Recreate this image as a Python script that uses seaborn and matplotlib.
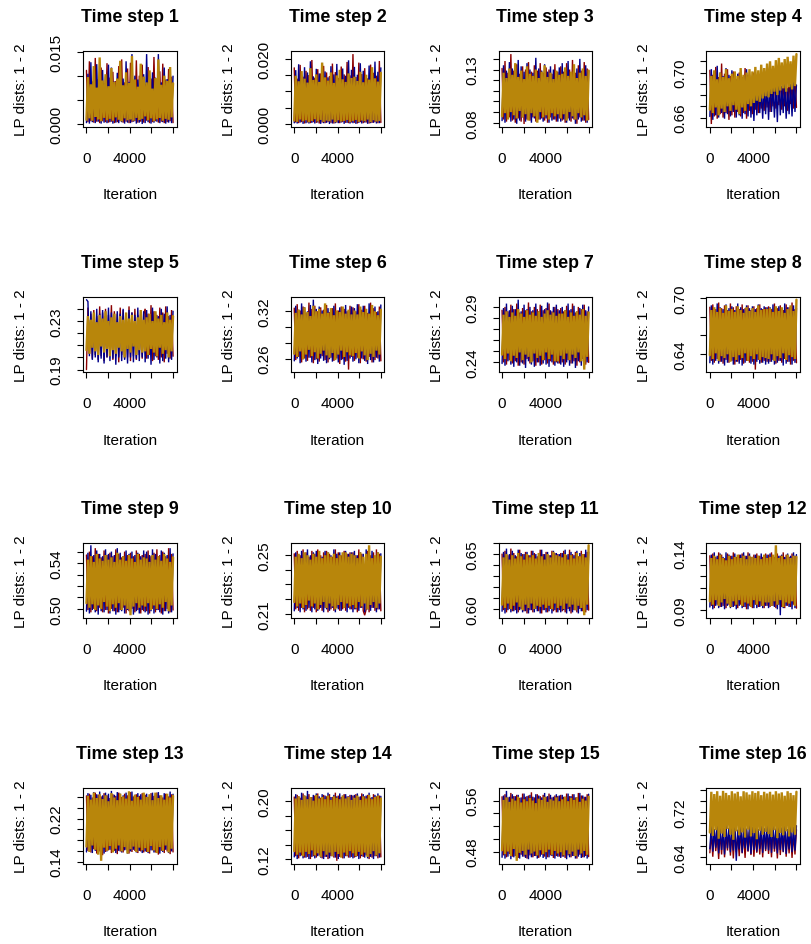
import numpy as np
import pandas as pd
import matplotlib
matplotlib.use("Agg")
import matplotlib.pyplot as plt
import seaborn as sns

sns.set_theme(style="white")
plt.rcParams["font.family"] = ["Liberation Sans", "DejaVu Sans"]

# ---------------- data ----------------
titles = ["Time step %d" % i for i in range(1, 17)]
chain_names = ["1", "2", "3"]
chain_colors = ["#8B0000", "#00008B", "#B8860B"]
ylabel_text = "LP dists: 1 - 2"
xlabel_text = "Iteration"
n_iter = 8000
n_kept = 60
xticks = [0, 2000, 4000, 6000, 8000]
xticklabels = ["0", "", "4000", "", ""]

p1_red = [.0112,.0004,.0131,.0006,.0089,.0003,.0138,.0005,.0094,.0002,.0118,.0006,.0085,.0004,.0127,.0003,.0097,.0005,.0109,.0002,.0090,.0004,.0121,.0006,.0135,.0003,.0087,.0005,.0116,.0002,.0128,.0004,.0092,.0006,.0133,.0003,.0101,.0005,.0124,.0003,.0083,.0007,.0119,.0002,.0095,.0004,.0140,.0006,.0088,.0003,.0110,.0005,.0126,.0002,.0093,.0004,.0115,.0006,.0099,.0003]
p1_blue = [.0003,.0105,.0001,.0129,.0004,.0092,.0002,.0125,.0005,.0086,.0001,.0113,.0003,.0099,.0002,.0124,.0004,.0118,.0001,.0089,.0003,.0107,.0002,.0119,.0004,.0095,.0001,.0131,.0003,.0088,.0002,.0146,.0005,.0101,.0001,.0093,.0003,.0115,.00002,.0104,.0002,.0146,.0004,.0090,.0001,.0108,.0003,.0097,.0005,.0146,.0002,.0087,.0004,.0118,.0001,.0094,.0003,.0110,.0002,.0100]
p1_gold = [.0009,.0098,.0012,.0083,.0007,.0121,.0015,.0076,.0010,.0139,.0006,.0091,.0013,.0104,.0008,.0079,.0011,.0117,.0007,.0088,.0014,.0095,.0009,.0132,.0006,.0081,.0012,.0108,.0008,.0086,.0010,.0142,.0007,.0093,.0013,.0078,.0009,.0126,.0011,.0099,.0016,.0087,.0008,.0112,.0012,.0074,.0006,.0096,.0010,.0135,.0013,.0082,.0007,.0101,.0011,.0090,.0009,.0119,.0014,.0085]

p2_red = [.0172,.0005,.0139,.0003,.0181,.0006,.0145,.0002,.0163,.0005,.0150,.0003,.0196,.0006,.0142,.0004,.0168,.0002,.0155,.0005,.0178,.0003,.0158,.0006,.0147,.0004,.0185,.0002,.0159,.0005,.0141,.0003,.0176,.0006,.0152,.0004,.0190,.0003,.0149,.0005,.0214,.0004,.0144,.0002,.0188,.0006,.0153,.0003,.0171,.0005,.0140,.0002,.0182,.0004,.0157,.0006,.0148,.0003,.0193,.0005]
p2_blue = [.0004,.0165,.0002,.0183,.0005,.0149,.0001,.0174,.0003,.0158,.0002,.0192,.0004,.0146,.0002,.0169,.0005,.0155,.0001,.0187,.0003,.0161,.0004,.0143,.00005,.0177,.0002,.0152,.0003,.0184,.0003,.0157,.0005,.0170,.0001,.0148,.0004,.0195,.0002,.0166,.0003,.0175,.0001,.0151,.0004,.0186,.0002,.0163,.0005,.0147,.0001,.0179,.0003,.0156,.0004,.0191,.0002,.0160,.0003,.0172]
p2_gold = [.0011,.0148,.0007,.0131,.0014,.0162,.0009,.0139,.0012,.0127,.0006,.0171,.0010,.0135,.0015,.0152,.0008,.0129,.0013,.0188,.0007,.0143,.0011,.0133,.0009,.0158,.0014,.0126,.0006,.0149,.0012,.0166,.0008,.0137,.0010,.0129,.0013,.0155,.0007,.0141,.0010,.0145,.0013,.0132,.0007,.0160,.0011,.0128,.0009,.0151,.0014,.0136,.0006,.0174,.0012,.0140,.0008,.0130,.0010,.0157]

p3_red = [.131,.083,.138,.081,.127,.085,.1445,.082,.129,.080,.135,.084,.126,.081,.133,.0788,.130,.083,.137,.082,.128,.085,.134,.081,.129,.083,.136,.084,.127,.082,.132,.080,.130,.085,.126,.083,.135,.081,.128,.084,.133,.082,.128,.080,.136,.084,.130,.081,.139,.083,.127,.079,.134,.085,.129,.082,.137,.080,.131,.083]
p3_blue = [.082,.134,.080,.129,.084,.137,.081,.131,.083,.126,.079,.139,.082,.133,.085,.128,.081,.136,.083,.130,.080,.127,.084,.141,.082,.131,.083,.129,.081,.135,.084,.128,.080,.133,.082,.130,.083,.126,.081,.132,.081,.136,.083,.130,.080,.138,.082,.127,.084,.133,.079,.131,.083,.140,.081,.128,.082,.134,.080,.129]
p3_gold = [.086,.127,.089,.122,.083,.131,.090,.125,.087,.136,.084,.123,.091,.129,.085,.121,.088,.133,.082,.126,.089,.124,.086,.130,.080,.122,.090,.128,.085,.134,.087,.123,.083,.127,.089,.121,.086,.129,.088,.125,.084,.126,.088,.132,.082,.124,.090,.128,.086,.135,.083,.122,.089,.127,.085,.131,.087,.124,.082,.129]

p4_red = [.702,.6543,.698,.661,.705,.659,.696,.663,.708,.660,.699,.664,.703,.658,.697,.662,.701,.660,.694,.665,.700,.661,.696,.664,.704,.659,.698,.666,.695,.663,.700,.667,.696,.664,.692,.668,.698,.666,.695,.669,.703,.665,.691,.670,.697,.668,.694,.671,.699,.667,.693,.670,.700,.666,.696,.672,.691,.668,.698,.669]
p4_blue = [.661,.703,.658,.699,.662,.706,.660,.700,.664,.697,.659,.704,.663,.698,.661,.702,.665,.696,.660,.699,.662,.701,.659,.697,.663,.703,.661,.698,.660,.692,.657,.688,.662,.694,.664,.686,.659,.691,.663,.689,.658,.693,.665,.687,.660,.690,.656,.695,.662,.688,.664,.692,.659,.686,.663,.690,.661,.694,.665,.689]
p4_gold = [.667,.697,.664,.702,.669,.694,.662,.700,.668,.696,.665,.703,.670,.695,.666,.699,.671,.701,.667,.697,.663,.704,.669,.698,.666,.700,.672,.703,.670,.701,.673,.705,.675,.702,.674,.707,.677,.704,.679,.708,.678,.710,.681,.706,.683,.711,.680,.713,.684,.709,.686,.712,.683,.714,.687,.710,.685,.715,.688,.7164]

p5_red = [.190,.241,.203,.236,.199,.239,.202,.234,.198,.242,.201,.237,.197,.240,.200,.235,.203,.243,.198,.238,.201,.236,.196,.241,.202,.239,.199,.234,.200,.242,.197,.237,.201,.240,.198,.235,.202,.238,.199,.236,.240,.199,.236,.202,.243,.197,.238,.201,.235,.198,.241,.200,.237,.196,.242,.203,.234,.199,.239,.201]
p5_blue = [.2475,.246,.201,.238,.198,.235,.200,.240,.196,.236,.199,.239,.195,.234,.200,.241,.197,.237,.199,.235,.194,.238,.200,.236,.197,.240,.198,.234,.195,.239,.200,.237,.196,.235,.199,.241,.197,.236,.200,.238,.196,.239,.199,.235,.194,.241,.198,.237,.200,.234,.195,.240,.197,.236,.199,.242,.196,.235,.198,.238]
p5_gold = [.206,.234,.203,.231,.208,.237,.205,.229,.202,.235,.209,.232,.204,.238,.207,.230,.201,.233,.206,.236,.203,.229,.208,.234,.205,.231,.200,.237,.207,.232,.204,.235,.209,.230,.202,.233,.206,.239,.204,.231,.205,.233,.202,.236,.207,.230,.204,.238,.201,.232,.208,.235,.203,.229,.206,.237,.200,.231,.205,.234]

p6_red = [.324,.258,.329,.262,.321,.255,.326,.260,.318,.257,.331,.261,.323,.254,.327,.259,.320,.256,.325,.263,.322,.258,.328,.255,.319,.261,.324,.257,.330,.260,.321,.253,.326,.259,.323,.256,.320,.2459,.327,.262,.325,.257,.320,.261,.329,.254,.322,.259,.327,.256,.318,.262,.331,.255,.324,.258,.319,.260,.326,.257]
p6_blue = [.257,.327,.260,.322,.254,.330,.259,.325,.256,.320,.261,.328,.255,.3347,.258,.323,.253,.326,.260,.321,.257,.329,.254,.324,.259,.322,.256,.327,.261,.320,.255,.325,.258,.323,.252,.328,.257,.321,.260,.326,.256,.324,.259,.329,.254,.321,.260,.327,.257,.323,.253,.330,.258,.322,.255,.326,.261,.320,.256,.328]
p6_gold = [.266,.318,.262,.322,.269,.316,.259,.325,.265,.319,.271,.314,.263,.327,.268,.320,.260,.323,.266,.317,.270,.330,.264,.318,.261,.324,.267,.315,.258,.321,.265,.319,.270,.326,.262,.317,.268,.322,.264,.316,.263,.321,.267,.316,.260,.326,.269,.319,.264,.323,.258,.317,.266,.328,.262,.320,.270,.315,.265,.322]

p7_red = [.287,.240,.290,.238,.286,.242,.292,.239,.288,.241,.293,.237,.285,.240,.289,.238,.287,.243,.294,.239,.286,.241,.290,.237,.288,.240,.292,.238,.287,.242,.289,.239,.293,.241,.286,.238,.290,.240,.288,.239,.289,.240,.286,.238,.291,.242,.287,.239,.293,.241,.285,.237,.290,.240,.288,.243,.292,.238,.286,.240]
p7_blue = [.239,.289,.237,.293,.241,.287,.238,.291,.236,.288,.240,.2965,.237,.286,.239,.292,.235,.288,.241,.290,.238,.287,.236,.293,.240,.286,.237,.291,.239,.288,.238,.294,.236,.287,.240,.290,.237,.292,.239,.287,.238,.290,.236,.287,.240,.293,.237,.288,.239,.291,.235,.286,.241,.289,.237,.292,.238,.287,.240,.290]
p7_gold = [.247,.283,.243,.286,.248,.281,.241,.285,.246,.282,.244,.288,.249,.284,.242,.281,.247,.287,.245,.283,.240,.285,.248,.282,.244,.286,.246,.281,.242,.284,.249,.287,.243,.283,.247,.285,.241,.282,.241,.284,.246,.284,.243,.287,.248,.281,.242,.285,.247,.282,.244,.286,.249,.283,.241,.288,.2335,.282,.245,.285]

p8_red = [.690,.633,.693,.631,.688,.635,.695,.632,.689,.630,.692,.634,.687,.631,.694,.633,.690,.629,.691,.632,.688,.634,.693,.630,.689,.633,.692,.631,.687,.632,.691,.6237,.689,.634,.693,.631,.688,.633,.690,.632,.691,.632,.688,.634,.694,.630,.689,.633,.692,.631,.687,.635,.693,.632,.690,.629,.695,.633,.688,.631]
p8_blue = [.631,.692,.629,.689,.633,.694,.630,.690,.632,.688,.628,.693,.631,.689,.633,.691,.629,.687,.632,.694,.630,.690,.628,.688,.631,.692,.633,.689,.630,.691,.629,.688,.632,.693,.630,.689,.631,.691,.629,.690,.630,.690,.632,.693,.629,.688,.631,.691,.633,.689,.628,.694,.630,.690,.632,.688,.629,.692,.631,.689]
p8_gold = [.639,.687,.635,.690,.641,.685,.633,.689,.638,.684,.636,.692,.640,.686,.632,.688,.637,.685,.634,.691,.639,.687,.636,.684,.641,.690,.633,.686,.638,.689,.635,.685,.640,.692,.634,.687,.637,.688,.636,.688,.635,.689,.640,.685,.633,.691,.638,.686,.636,.690,.641,.684,.634,.688,.639,.692,.637,.686,.635,.698]

p9_red = [.547,.499,.550,.497,.546,.500,.553,.498,.548,.501,.545,.497,.551,.499,.547,.496,.549,.500,.546,.498,.552,.497,.548,.499,.545,.501,.550,.496,.547,.498,.549,.500,.546,.497,.551,.499,.548,.496,.547,.498,.548,.498,.551,.496,.546,.500,.549,.497,.552,.499,.547,.496,.550,.498,.546,.500,.553,.497,.548,.499]
p9_blue = [.498,.549,.496,.5555,.499,.547,.497,.551,.495,.548,.498,.546,.497,.552,.499,.548,.496,.550,.498,.547,.495,.553,.497,.549,.498,.546,.496,.551,.499,.548,.497,.550,.495,.547,.498,.549,.496,.546,.499,.551,.497,.550,.495,.547,.498,.552,.496,.548,.499,.546,.497,.551,.495,.549,.498,.547,.496,.553,.497,.548]
p9_gold = [.505,.543,.501,.546,.504,.541,.499,.548,.503,.544,.500,.542,.506,.547,.502,.543,.498,.545,.504,.541,.501,.549,.505,.543,.499,.546,.503,.542,.500,.547,.4945,.544,.502,.541,.505,.548,.501,.543,.503,.545,.502,.544,.505,.541,.499,.547,.503,.543,.500,.546,.504,.542,.501,.548,.506,.544,.498,.541,.503,.545]

p10_red = [.251,.213,.253,.212,.250,.214,.254,.211,.252,.213,.249,.212,.253,.214,.251,.211,.254,.213,.250,.212,.252,.214,.253,.211,.251,.213,.249,.212,.254,.214,.252,.212,.250,.213,.253,.212,.251,.214,.252,.213,.252,.213,.250,.211,.254,.214,.251,.212,.209,.213,.253,.211,.250,.214,.252,.212,.254,.213,.251,.212]
p10_blue = [.212,.252,.214,.250,.211,.253,.213,.251,.212,.254,.214,.250,.211,.252,.213,.253,.212,.251,.214,.249,.211,.253,.213,.252,.212,.250,.214,.254,.211,.251,.213,.252,.212,.250,.214,.253,.211,.251,.213,.252,.211,.253,.213,.250,.212,.252,.214,.251,.211,.254,.213,.250,.212,.253,.214,.249,.211,.252,.213,.251]
p10_gold = [.218,.249,.215,.251,.217,.248,.214,.252,.216,.250,.219,.247,.215,.251,.217,.249,.213,.253,.216,.248,.218,.250,.214,.252,.217,.249,.215,.251,.213,.248,.216,.250,.218,.252,.214,.252,.217,.249,.215,.251,.216,.250,.214,.248,.218,.252,.215,.249,.217,.251,.213,.2568,.216,.248,.218,.250,.214,.252,.217,.249]

p11_red = [.650,.599,.653,.597,.649,.600,.655,.598,.651,.599,.648,.597,.654,.600,.650,.598,.652,.596,.649,.599,.653,.597,.651,.600,.648,.598,.654,.596,.650,.599,.652,.597,.649,.600,.653,.598,.651,.597,.650,.599,.651,.598,.653,.597,.649,.600,.654,.596,.650,.599,.652,.597,.648,.600,.653,.598,.650,.597,.652,.599]
p11_blue = [.598,.652,.596,.655,.599,.650,.597,.653,.598,.649,.596,.654,.599,.651,.597,.650,.598,.652,.596,.649,.599,.653,.597,.650,.598,.651,.596,.654,.599,.650,.597,.652,.598,.649,.596,.653,.599,.651,.597,.650,.597,.651,.599,.654,.596,.650,.598,.652,.597,.649,.599,.653,.596,.651,.598,.650,.597,.654,.599,.652]
p11_gold = [.604,.647,.601,.650,.605,.645,.600,.649,.603,.646,.606,.651,.602,.648,.599,.645,.604,.650,.601,.647,.605,.649,.600,.646,.603,.651,.602,.648,.604,.645,.601,.650,.603,.647,.600,.652,.605,.649,.601,.648,.603,.647,.600,.650,.605,.645,.602,.649,.604,.646,.599,.651,.603,.648,.601,.650,.5944,.647,.604,.658]

p12_red = [.138,.094,.140,.092,.137,.095,.141,.093,.139,.094,.136,.092,.140,.095,.138,.093,.141,.094,.137,.092,.139,.095,.140,.093,.138,.091,.141,.094,.137,.092,.139,.095,.140,.093,.138,.094,.137,.092,.140,.094,.139,.093,.141,.094,.137,.092,.140,.095,.138,.093,.141,.092,.139,.094,.137,.093,.140,.095,.138,.092]
p12_blue = [.093,.139,.091,.141,.094,.138,.092,.140,.093,.137,.091,.141,.094,.139,.092,.138,.093,.140,.091,.137,.094,.139,.092,.141,.093,.138,.091,.140,.094,.137,.092,.139,.092,.138,.093,.140,.092,.137,.094,.139,.092,.140,.094,.137,.093,.141,.091,.138,.0858,.139,.092,.137,.094,.140,.093,.138,.091,.141,.092,.139]
p12_gold = [.098,.136,.095,.138,.099,.135,.094,.139,.097,.136,.100,.134,.096,.138,.093,.135,.098,.137,.095,.139,.099,.136,.094,.138,.097,.135,.096,.138,.093,.137,.099,.136,.095,.138,.098,.135,.094,.139,.097,.136,.097,.137,.094,.139,.098,.1472,.095,.136,.099,.138,.093,.135,.097,.139,.096,.136,.098,.138,.094,.137]

p13_red = [.262,.160,.266,.157,.259,.163,.268,.155,.264,.159,.261,.152,.267,.158,.263,.161,.258,.156,.265,.160,.262,.154,.268,.159,.260,.157,.266,.162,.263,.155,.269,.158,.261,.160,.265,.156,.262,.159,.267,.157,.264,.158,.260,.155,.267,.161,.262,.157,.268,.153,.263,.160,.259,.156,.266,.159,.261,.154,.265,.158]
p13_blue = [.158,.267,.162,.264,.156,.269,.160,.265,.157,.270,.161,.263,.155,.268,.159,.266,.162,.2712,.158,.264,.156,.269,.160,.266,.157,.263,.161,.268,.155,.265,.159,.270,.162,.264,.157,.267,.160,.265,.156,.262,.159,.266,.156,.263,.161,.268,.157,.265,.160,.269,.155,.262,.158,.267,.162,.264,.156,.270,.159,.265]
p13_gold = [.168,.262,.158,.255,.170,.268,.162,.258,.153,.265,.1416,.256,.166,.263,.160,.252,.169,.267,.157,.259,.164,.254,.170,.266,.159,.261,.167,.257,.155,.2705,.163,.253,.168,.264,.158,.260,.166,.255,.161,.268,.165,.260,.158,.265,.169,.254,.161,.268,.156,.258,.167,.263,.160,.255,.170,.266,.157,.259,.164,.262]

p14_red = [.206,.124,.209,.121,.205,.125,.211,.122,.207,.123,.210,.120,.206,.124,.208,.122,.211,.125,.205,.121,.209,.123,.207,.120,.210,.124,.206,.122,.212,.1176,.208,.123,.206,.121,.210,.124,.207,.122,.209,.123,.208,.122,.210,.124,.206,.121,.211,.123,.207,.125,.209,.120,.205,.122,.210,.124,.207,.121,.208,.123]
p14_blue = [.123,.210,.120,.207,.124,.212,.121,.208,.122,.2145,.120,.206,.123,.209,.121,.211,.124,.207,.122,.210,.120,.208,.123,.212,.121,.206,.124,.209,.122,.207,.120,.211,.123,.208,.121,.210,.124,.207,.122,.209,.121,.209,.123,.211,.120,.207,.124,.210,.122,.208,.121,.212,.123,.206,.120,.209,.124,.211,.122,.207]
p14_gold = [.131,.204,.126,.207,.129,.202,.124,.208,.130,.203,.127,.206,.132,.201,.125,.209,.128,.204,.123,.206,.131,.203,.126,.208,.129,.202,.124,.207,.130,.205,.127,.203,.122,.208,.129,.204,.125,.206,.131,.202,.128,.205,.124,.208,.130,.202,.126,.207,.129,.204,.123,.209,.127,.203,.131,.206,.125,.208,.128,.204]

p15_red = [.566,.474,.570,.471,.565,.476,.572,.472,.567,.473,.569,.470,.564,.475,.571,.472,.566,.469,.568,.474,.573,.471,.565,.473,.570,.470,.567,.475,.569,.472,.566,.471,.571,.474,.565,.470,.568,.473,.567,.472,.569,.472,.566,.470,.571,.474,.567,.471,.570,.473,.565,.469,.572,.475,.568,.471,.566,.473,.570,.472]
p15_blue = [.471,.568,.469,.5752,.472,.566,.468,.570,.471,.567,.473,.569,.469,.565,.472,.571,.470,.567,.468,.569,.471,.566,.473,.570,.469,.568,.472,.565,.470,.572,.468,.567,.471,.569,.473,.566,.469,.570,.472,.568,.470,.569,.472,.566,.468,.571,.471,.567,.473,.570,.469,.565,.472,.572,.470,.568,.471,.566,.469,.570]
p15_gold = [.482,.561,.476,.565,.480,.558,.473,.563,.484,.560,.4655,.566,.478,.557,.481,.562,.475,.559,.483,.564,.477,.560,.480,.556,.474,.563,.482,.561,.476,.566,.479,.558,.483,.562,.475,.560,.481,.565,.477,.559,.479,.562,.474,.566,.482,.559,.476,.564,.480,.561,.473,.565,.483,.558,.477,.563,.481,.560,.475,.566]

p16_red = [.648,.683,.641,.690,.651,.679,.637,.686,.645,.693,.640,.681,.652,.688,.643,.684,.638,.691,.649,.680,.642,.687,.647,.682,.639,.689,.650,.685,.644,.692,.641,.680,.648,.686,.645,.683,.640,.690,.651,.684,.646,.685,.640,.691,.650,.681,.638,.688,.644,.683,.649,.690,.641,.684,.647,.687,.639,.682,.645,.689]
p16_blue = [.655,.697,.650,.690,.657,.702,.647,.694,.653,.688,.645,.699,.656,.692,.649,.703,.652,.695,.6338,.689,.654,.700,.648,.693,.656,.691,.651,.698,.646,.694,.653,.701,.650,.690,.655,.696,.648,.692,.654,.697,.652,.695,.648,.700,.655,.691,.647,.697,.653,.693,.650,.702,.646,.690,.654,.698,.649,.694,.652,.696]
p16_gold = [.684,.756,.678,.752,.688,.757,.673,.749,.682,.7576,.676,.754,.690,.750,.680,.757,.671,.753,.686,.756,.679,.748,.684,.757,.675,.755,.689,.751,.677,.757,.683,.754,.672,.757,.687,.750,.680,.756,.685,.753,.681,.756,.676,.751,.688,.757,.674,.753,.683,.755,.679,.749,.686,.757,.677,.754,.684,.750,.680,.756]

chains = [
    (p1_red, p1_blue, p1_gold), (p2_red, p2_blue, p2_gold),
    (p3_red, p3_blue, p3_gold), (p4_red, p4_blue, p4_gold),
    (p5_red, p5_blue, p5_gold), (p6_red, p6_blue, p6_gold),
    (p7_red, p7_blue, p7_gold), (p8_red, p8_blue, p8_gold),
    (p9_red, p9_blue, p9_gold), (p10_red, p10_blue, p10_gold),
    (p11_red, p11_blue, p11_gold), (p12_red, p12_blue, p12_gold),
    (p13_red, p13_blue, p13_gold), (p14_red, p14_blue, p14_gold),
    (p15_red, p15_blue, p15_gold), (p16_red, p16_blue, p16_gold),
]

yticks = [
    [0, .005, .010, .015], [0, .005, .010, .015, .020],
    [.08, .09, .10, .11, .12, .13, .14], [.66, .67, .68, .69, .70, .71],
    [.19, .20, .21, .22, .23, .24], [.26, .28, .30, .32],
    [.24, .25, .26, .27, .28, .29], [.64, .66, .68, .70],
    [.50, .51, .52, .53, .54, .55], [.21, .22, .23, .24, .25],
    [.60, .61, .62, .63, .64, .65, .66], [.09, .10, .11, .12, .13, .14],
    [.14, .16, .18, .20, .22, .24, .26], [.12, .14, .16, .18, .20],
    [.48, .50, .52, .54, .56], [.64, .66, .68, .70, .72, .74, .76],
]
yticklabels = [
    ["0.000", "", "", "0.015"], ["0.000", "", "", "", "0.020"],
    ["0.08", "", "", "", "", "0.13", ""], ["0.66", "", "", "", "0.70", ""],
    ["0.19", "", "", "", "0.23", ""], ["0.26", "", "", "0.32"],
    ["0.24", "", "", "", "", "0.29"], ["0.64", "", "", "0.70"],
    ["0.50", "", "", "", "0.54", ""], ["0.21", "", "", "", "0.25"],
    ["0.60", "", "", "", "", "0.65", ""], ["0.09", "", "", "", "", "0.14"],
    ["0.14", "", "", "", "0.22", "", ""], ["0.12", "", "", "", "0.20"],
    ["0.48", "", "", "", "0.56"], ["0.64", "", "", "", "0.72", "", ""],
]

# ---------------- layout (pixels) ----------------
W, H = 811, 945
BOX_W, BOX_H = 93.5, 75.5
COL_X = [83.0, 290.8, 498.6, 706.4]
ROW_Y = [52.3, 297.9, 543.5, 789.1]
FS = 11
FS_TITLE = 12.75
LW_CHAIN = [1.0, 1.0, 1.7]

fig = plt.figure(figsize=(W / 100, H / 100), dpi=100)
fig.patch.set_facecolor("white")

iterations = np.linspace(1, n_iter, n_kept)

for k in range(16):
    r, c = divmod(k, 4)
    left, top = COL_X[c], ROW_Y[r]
    ax = fig.add_axes([left / W, 1 - (top + BOX_H) / H, BOX_W / W, BOX_H / H])
    vals = np.concatenate(chains[k])
    df = pd.DataFrame({
        "Iteration": np.tile(iterations, 3),
        "value": vals,
        "chain": np.repeat(chain_names, n_kept),
    })
    sns.lineplot(data=df, x="Iteration", y="value", hue="chain",
                 hue_order=chain_names, palette=chain_colors,
                 estimator=None, sort=False, legend=False, ax=ax)
    for line, lw in zip(ax.get_lines(), LW_CHAIN):
        line.set_linewidth(lw)
        line.set_solid_joinstyle("miter")
    lo, hi = vals.min(), vals.max()
    pad = 0.04 * (hi - lo)
    ax.set_ylim(lo - pad, hi + pad)
    xpad = 0.04 * (n_iter - 1)
    ax.set_xlim(1 - xpad, n_iter + xpad)
    ax.set_xlabel("")
    ax.set_ylabel("")
    ax.set_xticks(xticks)
    ax.set_xticklabels(xticklabels, fontsize=FS)
    ax.set_yticks(yticks[k])
    ax.set_yticklabels(yticklabels[k], fontsize=FS, rotation=90, va="center")
    ax.tick_params(axis="both", direction="out", length=4.3, width=0.8,
                   colors="black", left=True, bottom=True)
    ax.tick_params(axis="x", pad=13)
    ax.tick_params(axis="y", pad=9.5)
    ax.set_facecolor("white")
    for s in ax.spines.values():
        s.set_visible(True)
        s.set_color("black")
        s.set_linewidth(0.8)
    cx = left + BOX_W / 2
    fig.text(cx / W, 1 - (top - 30) / H, titles[k], ha="center", va="baseline",
             fontsize=FS_TITLE, fontweight="bold", color="black")
    fig.text(cx / W, 1 - (top + BOX_H + 71.3) / H, xlabel_text, ha="center",
             va="baseline", fontsize=FS, color="black")
    fig.text((left - 62) / W, 1 - (top + BOX_H / 2) / H, ylabel_text,
             rotation=90, ha="center", va="center", fontsize=FS, color="black")

fig.savefig("out.png", dpi=100, facecolor="white")
